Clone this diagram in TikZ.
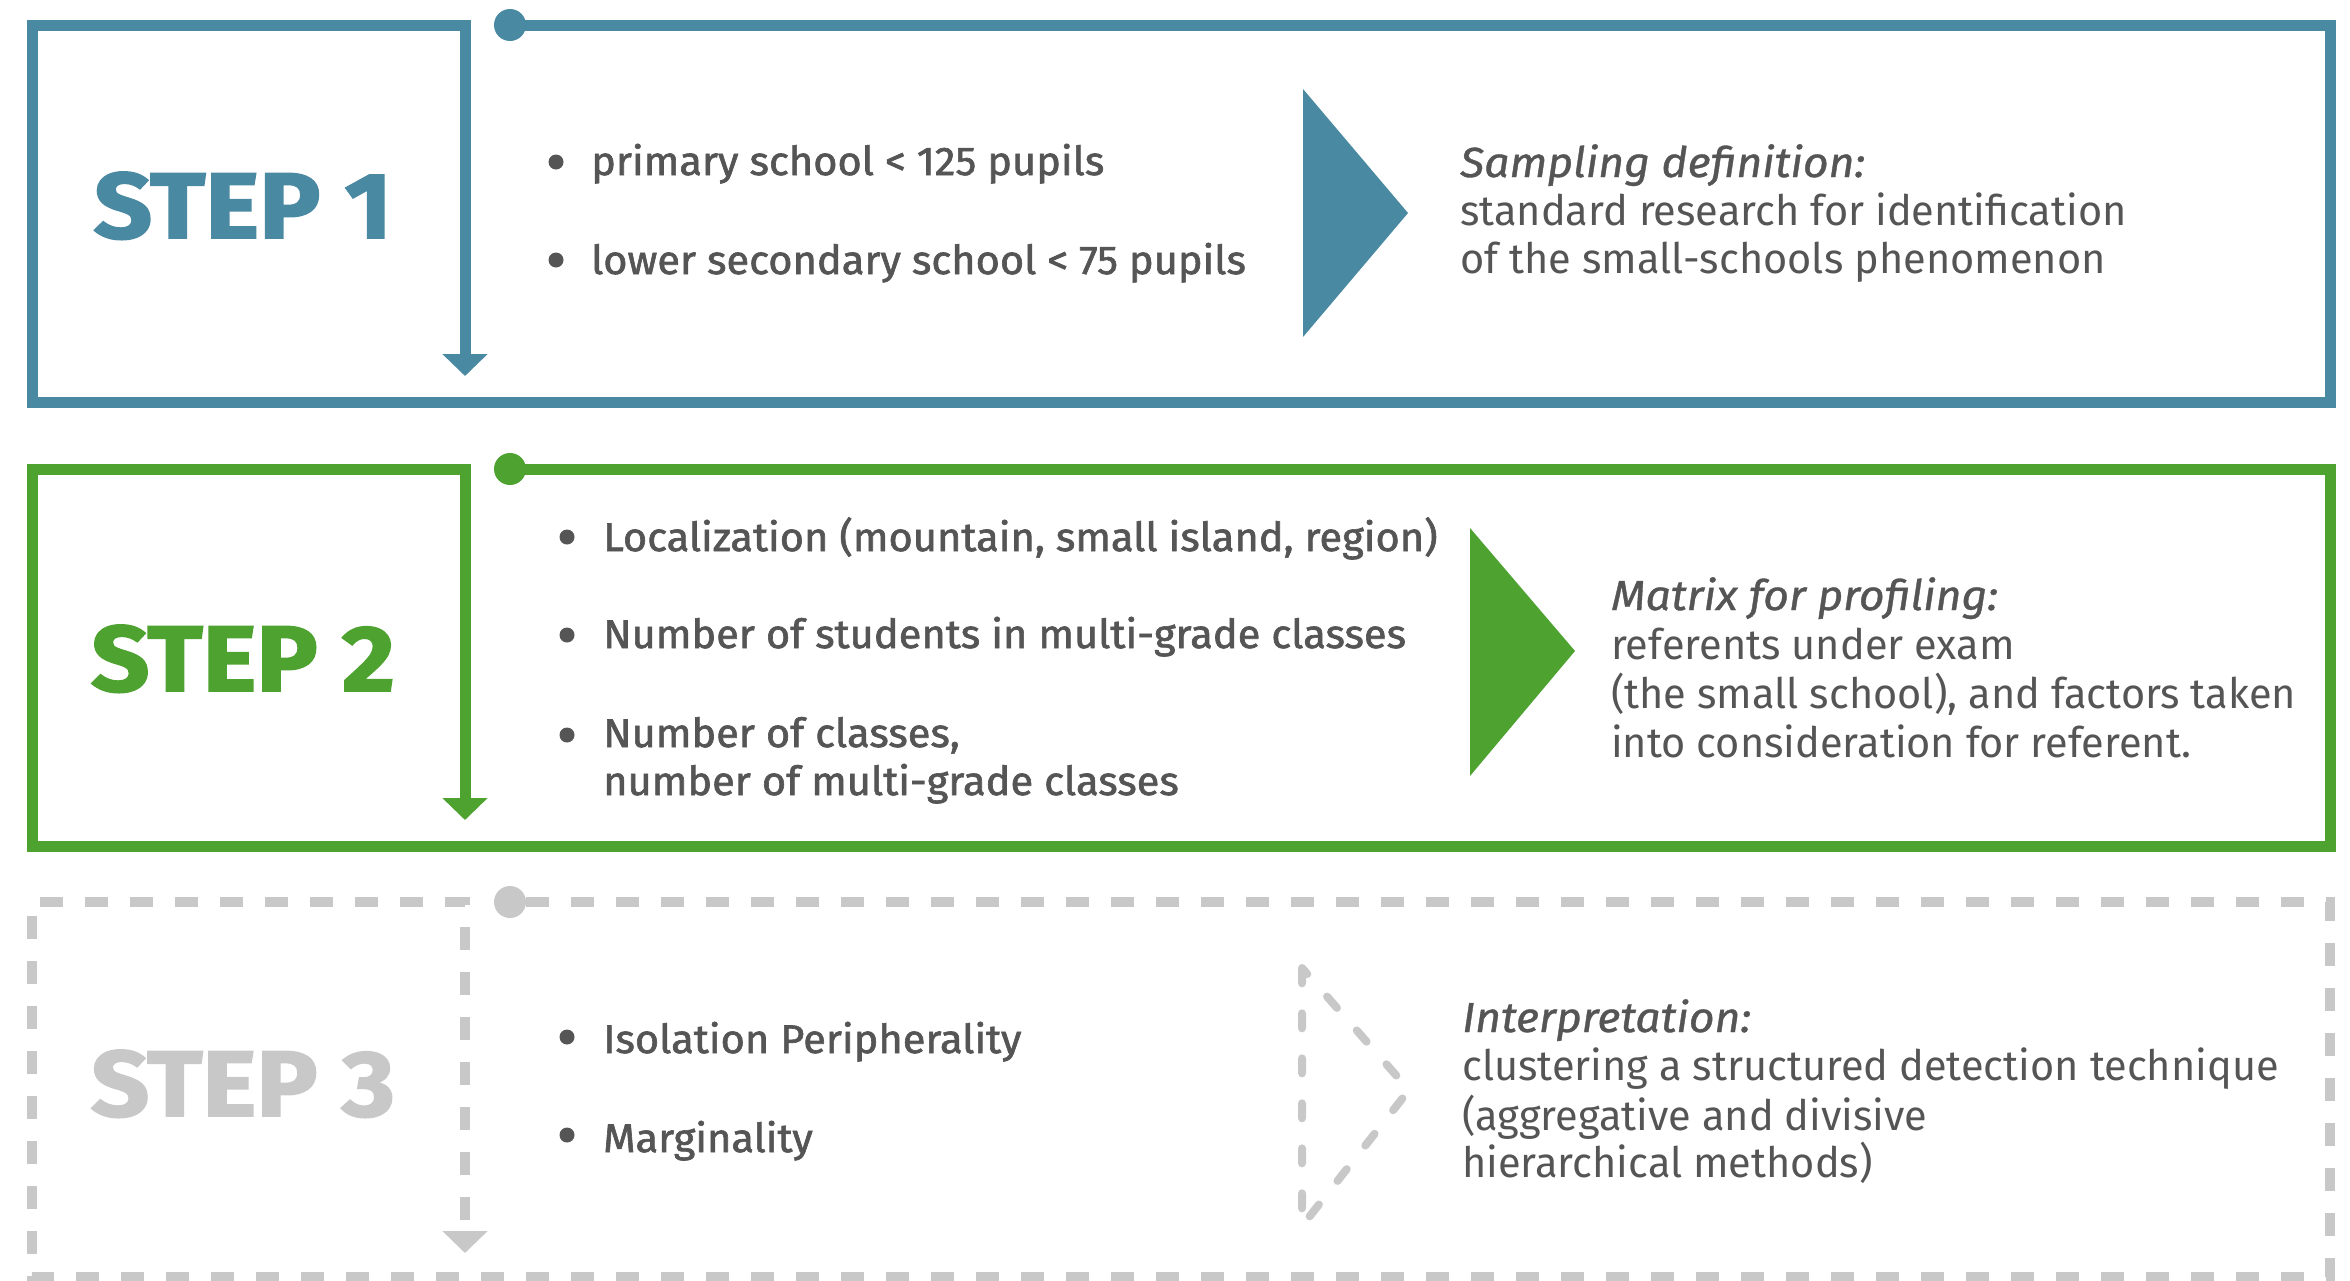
\documentclass[tikz,border=0pt]{standalone}
\usepackage{fontspec}
\setmainfont{Fira Sans}[FakeStretch=0.988]
\newfontfamily\bulfont{Fira Sans}[FakeStretch=1.04,FakeBold=1.6]
\newfontfamily\headfont{Fira Sans}[FakeStretch=1.06,FakeBold=0.9]
\newfontfamily\stepfont{Fira Sans}[FakeStretch=1.1,FakeBold=2]
\usetikzlibrary{arrows.meta}
\definecolor{cteal}{RGB}{74,137,162}
\definecolor{cgreen}{RGB}{77,162,48}
\definecolor{cgray}{RGB}{200,200,200}
\definecolor{ctext}{RGB}{85,85,85}
\tikzset{
  frameline/.style={line width=11pt, line join=miter, -{Triangle[width=44pt,length=22pt]}},
  dashframe/.style={frameline, line width=10pt, dash pattern=on 23pt off 22pt},
  dotnode/.style={circle, inner sep=0pt, minimum size=32pt},
  bulnode/.style={circle, fill=ctext, inner sep=0pt, minimum size=15pt},
  btext/.style={anchor=base west, inner sep=0pt, text=ctext, font=\bulfont\fontsize{40}{48}\selectfont},
  dtext/.style={anchor=base west, inner sep=0pt, text=ctext, font=\fontsize{42}{48}\selectfont},
  dhead/.style={dtext, font=\headfont\itshape\fontsize{42}{48}\selectfont},
  steplabel/.style={anchor=base, inner sep=0pt, font=\stepfont\bfseries\fontsize{93}{100}\selectfont},
}
\begin{document}
\begin{tikzpicture}[x=1pt,y=-1pt]
\useasboundingbox (0,0) rectangle (2350,1280);
% ---------------- STEP 1 ----------------
\node[dotnode, fill=cteal] (d1) at (510,25) {};
\coordinate (a1) at (2330,25);
\coordinate (b1) at (2330,402);
\coordinate (c1) at (32,402);
\coordinate (e1) at (32,25);
\coordinate (f1) at (465,25);
\coordinate (g1) at (465,376);
\draw[frameline, cteal] (d1.center) -- (a1) -- (b1) -- (c1) -- (e1) -- (f1) -- (g1);
\node[steplabel, text=cteal] (s1) at (243,238) {STEP 1};
\node[bulnode] (p1a) at (556,162) {};
\node[bulnode] (p1b) at (556,260) {};
\node[btext] (t1a) at (591,175) {primary school < 125 pupils};
\node[btext] (t1b) at (591,274) {lower secondary school < 75 pupils};
\coordinate (r1a) at (1303,89);
\coordinate (r1b) at (1408,213);
\coordinate (r1c) at (1303,337);
\fill[cteal] (r1a) -- (r1b) -- (r1c) -- cycle;
\node[dhead] (h1) at (1460,177) {Sampling definition:};
\node[dtext] (h1a) at (1460,225) {standard research for identification};
\node[dtext] (h1b) at (1460,273) {of the small-schools phenomenon};
% ---------------- STEP 2 ----------------
\node[dotnode, fill=cgreen] (d2) at (510,469) {};
\coordinate (a2) at (2330,469);
\coordinate (b2) at (2330,846);
\coordinate (c2) at (32,846);
\coordinate (e2) at (32,469);
\coordinate (f2) at (465,469);
\coordinate (g2) at (465,820);
\draw[frameline, cgreen] (d2.center) -- (a2) -- (b2) -- (c2) -- (e2) -- (f2) -- (g2);
\node[steplabel, text=cgreen] (s2) at (243,691) {STEP 2};
\node[bulnode] (p2a) at (567,537) {};
\node[bulnode] (p2b) at (567,635) {};
\node[bulnode] (p2c) at (567,735) {};
\node[btext] (t2a) at (603,551) {Localization (mountain, small island, region)};
\node[btext] (t2b) at (603,648) {Number of students in multi-grade classes};
\node[btext] (t2c) at (603,747) {Number of classes,};
\node[btext] (t2d) at (603,795) {number of multi-grade classes};
\coordinate (r2a) at (1470,528);
\coordinate (r2b) at (1575,651);
\coordinate (r2c) at (1470,776);
\fill[cgreen] (r2a) -- (r2b) -- (r2c) -- cycle;
\node[dhead] (h2) at (1611,610) {Matrix for profiling:};
\node[dtext] (h2a) at (1611,659) {referents under exam};
\node[dtext] (h2b) at (1611,708) {(the small school), and factors taken};
\node[dtext] (h2c) at (1611,757) {into consideration for referent.};
% ---------------- STEP 3 ----------------
\node[dotnode, fill=cgray] (d3) at (510,902) {};
\coordinate (a3) at (2330,902);
\coordinate (b3) at (2330,1277);
\coordinate (c3) at (32,1277);
\coordinate (e3) at (32,902);
\coordinate (f3) at (465,902);
\coordinate (g3) at (465,1253);
\draw[dashframe, cgray] (d3.east) -- (a3) -- (b3) -- (c3) -- (e3) -- (f3) -- (g3);
\node[steplabel, text=cgray] (s3) at (243,1116) {STEP 3};
\node[bulnode] (p3a) at (567,1037) {};
\node[bulnode] (p3b) at (567,1135) {};
\node[btext] (t3a) at (603,1053) {Isolation Peripherality};
\node[btext] (t3b) at (603,1152) {Marginality};
\coordinate (r3a) at (1302,968);
\coordinate (r3b) at (1409,1090);
\coordinate (r3c) at (1302,1226);
\draw[cgray, line width=8pt, line cap=round, line join=round, dash pattern=on 15pt off 30pt, dash phase=7pt] (r3a) -- (r3b) -- (r3c) -- cycle;
\node[dhead] (h3) at (1462,1032) {Interpretation:};
\node[dtext] (h3a) at (1462,1080) {clustering a structured detection technique};
\node[dtext] (h3b) at (1462,1130) {(aggregative and divisive};
\node[dtext] (h3c) at (1462,1177) {hierarchical methods)};
\end{tikzpicture}
\end{document}
